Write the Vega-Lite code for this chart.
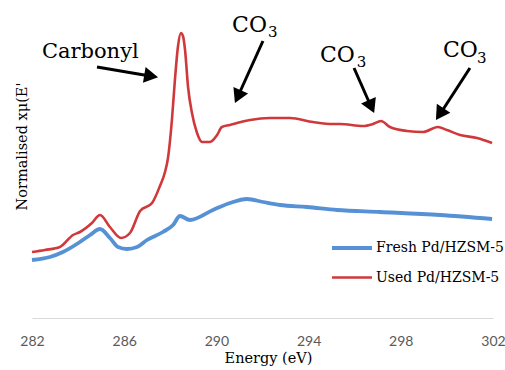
{
  "$schema": "https://vega.github.io/schema/vega-lite/v6.json",
  "width": 461,
  "height": 313,
  "autosize": {"type": "none"},
  "padding": {"left": 32, "top": 5, "right": 12, "bottom": 52},
  "background": "white",
  "config": {"view": {"stroke": null}, "axis": {"titleFontWeight": "normal"}},
  "datasets": {
    "spectra": [
      {"E": 282.00, "mu": 0.58, "series": "Fresh Pd/HZSM-5"},
      {"E": 282.78, "mu": 0.61, "series": "Fresh Pd/HZSM-5"},
      {"E": 283.34, "mu": 0.66, "series": "Fresh Pd/HZSM-5"},
      {"E": 284.08, "mu": 0.76, "series": "Fresh Pd/HZSM-5"},
      {"E": 284.52, "mu": 0.83, "series": "Fresh Pd/HZSM-5"},
      {"E": 284.95, "mu": 0.89, "series": "Fresh Pd/HZSM-5"},
      {"E": 285.38, "mu": 0.80, "series": "Fresh Pd/HZSM-5"},
      {"E": 285.73, "mu": 0.71, "series": "Fresh Pd/HZSM-5"},
      {"E": 286.12, "mu": 0.69, "series": "Fresh Pd/HZSM-5"},
      {"E": 286.56, "mu": 0.71, "series": "Fresh Pd/HZSM-5"},
      {"E": 286.99, "mu": 0.78, "series": "Fresh Pd/HZSM-5"},
      {"E": 287.68, "mu": 0.86, "series": "Fresh Pd/HZSM-5"},
      {"E": 288.12, "mu": 0.93, "series": "Fresh Pd/HZSM-5"},
      {"E": 288.42, "mu": 1.02, "series": "Fresh Pd/HZSM-5"},
      {"E": 288.85, "mu": 0.98, "series": "Fresh Pd/HZSM-5"},
      {"E": 289.85, "mu": 1.08, "series": "Fresh Pd/HZSM-5"},
      {"E": 290.59, "mu": 1.15, "series": "Fresh Pd/HZSM-5"},
      {"E": 291.33, "mu": 1.19, "series": "Fresh Pd/HZSM-5"},
      {"E": 292.02, "mu": 1.16, "series": "Fresh Pd/HZSM-5"},
      {"E": 292.76, "mu": 1.13, "series": "Fresh Pd/HZSM-5"},
      {"E": 293.93, "mu": 1.11, "series": "Fresh Pd/HZSM-5"},
      {"E": 295.23, "mu": 1.08, "series": "Fresh Pd/HZSM-5"},
      {"E": 297.10, "mu": 1.06, "series": "Fresh Pd/HZSM-5"},
      {"E": 299.70, "mu": 1.03, "series": "Fresh Pd/HZSM-5"},
      {"E": 301.96, "mu": 0.99, "series": "Fresh Pd/HZSM-5"},
      {"E": 282.00, "mu": 0.66, "series": "Used Pd/HZSM-5"},
      {"E": 282.56, "mu": 0.68, "series": "Used Pd/HZSM-5"},
      {"E": 283.21, "mu": 0.71, "series": "Used Pd/HZSM-5"},
      {"E": 283.78, "mu": 0.83, "series": "Used Pd/HZSM-5"},
      {"E": 284.08, "mu": 0.86, "series": "Used Pd/HZSM-5"},
      {"E": 284.60, "mu": 0.95, "series": "Used Pd/HZSM-5"},
      {"E": 284.95, "mu": 1.03, "series": "Used Pd/HZSM-5"},
      {"E": 285.38, "mu": 0.91, "series": "Used Pd/HZSM-5"},
      {"E": 285.86, "mu": 0.80, "series": "Used Pd/HZSM-5"},
      {"E": 286.25, "mu": 0.85, "series": "Used Pd/HZSM-5"},
      {"E": 286.69, "mu": 1.07, "series": "Used Pd/HZSM-5"},
      {"E": 287.21, "mu": 1.15, "series": "Used Pd/HZSM-5"},
      {"E": 287.55, "mu": 1.32, "series": "Used Pd/HZSM-5"},
      {"E": 287.77, "mu": 1.46, "series": "Used Pd/HZSM-5"},
      {"E": 287.90, "mu": 1.60, "series": "Used Pd/HZSM-5"},
      {"E": 288.07, "mu": 1.98, "series": "Used Pd/HZSM-5"},
      {"E": 288.20, "mu": 2.38, "series": "Used Pd/HZSM-5"},
      {"E": 288.33, "mu": 2.71, "series": "Used Pd/HZSM-5"},
      {"E": 288.46, "mu": 2.85, "series": "Used Pd/HZSM-5"},
      {"E": 288.55, "mu": 2.82, "series": "Used Pd/HZSM-5"},
      {"E": 288.64, "mu": 2.68, "series": "Used Pd/HZSM-5"},
      {"E": 288.77, "mu": 2.31, "series": "Used Pd/HZSM-5"},
      {"E": 288.94, "mu": 2.05, "series": "Used Pd/HZSM-5"},
      {"E": 289.16, "mu": 1.85, "series": "Used Pd/HZSM-5"},
      {"E": 289.38, "mu": 1.76, "series": "Used Pd/HZSM-5"},
      {"E": 289.72, "mu": 1.76, "series": "Used Pd/HZSM-5"},
      {"E": 290.03, "mu": 1.83, "series": "Used Pd/HZSM-5"},
      {"E": 290.24, "mu": 1.91, "series": "Used Pd/HZSM-5"},
      {"E": 290.59, "mu": 1.93, "series": "Used Pd/HZSM-5"},
      {"E": 290.89, "mu": 1.95, "series": "Used Pd/HZSM-5"},
      {"E": 291.46, "mu": 1.98, "series": "Used Pd/HZSM-5"},
      {"E": 292.33, "mu": 2.00, "series": "Used Pd/HZSM-5"},
      {"E": 293.19, "mu": 2.00, "series": "Used Pd/HZSM-5"},
      {"E": 294.19, "mu": 1.96, "series": "Used Pd/HZSM-5"},
      {"E": 295.06, "mu": 1.94, "series": "Used Pd/HZSM-5"},
      {"E": 295.36, "mu": 1.94, "series": "Used Pd/HZSM-5"},
      {"E": 296.36, "mu": 1.92, "series": "Used Pd/HZSM-5"},
      {"E": 296.79, "mu": 1.94, "series": "Used Pd/HZSM-5"},
      {"E": 297.14, "mu": 1.97, "series": "Used Pd/HZSM-5"},
      {"E": 297.53, "mu": 1.91, "series": "Used Pd/HZSM-5"},
      {"E": 298.27, "mu": 1.87, "series": "Used Pd/HZSM-5"},
      {"E": 298.96, "mu": 1.86, "series": "Used Pd/HZSM-5"},
      {"E": 299.61, "mu": 1.91, "series": "Used Pd/HZSM-5"},
      {"E": 300.00, "mu": 1.88, "series": "Used Pd/HZSM-5"},
      {"E": 300.57, "mu": 1.83, "series": "Used Pd/HZSM-5"},
      {"E": 301.31, "mu": 1.80, "series": "Used Pd/HZSM-5"},
      {"E": 301.96, "mu": 1.75, "series": "Used Pd/HZSM-5"}
    ],
    "arrows": [
      {"x1": 284.82, "y1": 2.51, "x2": 287.12, "y2": 2.42, "hx": 287.17, "hy": 2.42, "angle": 99.3},
      {"x1": 292.02, "y1": 2.77, "x2": 290.98, "y2": 2.24, "hx": 290.93, "hy": 2.214, "angle": 204.6},
      {"x1": 295.97, "y1": 2.50, "x2": 296.66, "y2": 2.14, "hx": 296.72, "hy": 2.114, "angle": 156.0},
      {"x1": 301.00, "y1": 2.50, "x2": 299.79, "y2": 2.07, "hx": 299.69, "hy": 2.039, "angle": 213.2}
    ],
    "carbonyl": [
      {"x": 282.43, "y": 2.60, "text": "Carbonyl"}
    ],
    "labels": [
      {"x": 290.68, "y": 2.86, "text": "CO"},
      {"x": 294.49, "y": 2.56, "text": "CO"},
      {"x": 299.83, "y": 2.61, "text": "CO"}
    ],
    "subs": [
      {"x": 292.24, "y": 2.81, "text": "3"},
      {"x": 296.09, "y": 2.51, "text": "3"},
      {"x": 301.31, "y": 2.55, "text": "3"}
    ]
  },
  "layer": [
    {
      "data": {"name": "spectra"},
      "mark": {"type": "line", "interpolate": "monotone"},
      "encoding": {
        "x": {
          "field": "E", "type": "quantitative",
          "scale": {"domain": [282, 302], "nice": false, "zero": false},
          "axis": {
            "values": [282, 286, 290, 294, 298, 302],
            "title": "Energy (eV)",
            "grid": false, "ticks": false,
            "domainColor": "#d9d9d9", "domainWidth": 1,
            "labelFont": "Lato", "labelFontSize": 14, "labelColor": "#595959",
            "labelPadding": 16, "labelFlush": false,
            "titleFont": "DejaVu Serif", "titleFontSize": 14.5, "titleFontWeight": "normal",
            "titleColor": "#000000", "titlePadding": 3, "titleX": 236
          }
        },
        "y": {
          "field": "mu", "type": "quantitative",
          "scale": {"domain": [0, 3.13], "nice": false, "zero": false},
          "axis": {
            "title": "Normalised xμ(E'",
            "labels": false, "ticks": false, "domain": false, "grid": false,
            "titleFont": "DejaVu Serif", "titleFontSize": 14.5, "titleFontWeight": "normal",
            "titleColor": "#000000", "titleX": -10, "titleY": 141,
            "titleAngle": 270, "titleAlign": "center", "titleBaseline": "middle"
          }
        },
        "color": {
          "field": "series", "type": "nominal",
          "scale": {"domain": ["Fresh Pd/HZSM-5", "Used Pd/HZSM-5"], "range": ["#5691d6", "#d0393b"]},
          "legend": {
            "title": null, "orient": "none", "legendX": 298, "legendY": 221,
            "symbolType": "stroke", "symbolSize": 1600, "symbolStrokeWidth": 3.5,
            "labelFont": "DejaVu Serif", "labelFontSize": 14, "labelColor": "#000000",
            "labelOffset": 2, "rowPadding": -4, "padding": 0
          }
        },
        "strokeWidth": {
          "field": "series", "type": "nominal",
          "scale": {"domain": ["Fresh Pd/HZSM-5", "Used Pd/HZSM-5"], "range": [3.8, 2.6]},
          "legend": null
        }
      }
    },
    {
      "data": {"name": "arrows"},
      "mark": {"type": "rule", "color": "#000000", "strokeWidth": 3},
      "encoding": {
        "x": {"field": "x1", "type": "quantitative"},
        "y": {"field": "y1", "type": "quantitative"},
        "x2": {"field": "x2"},
        "y2": {"field": "y2"}
      }
    },
    {
      "data": {"name": "arrows"},
      "mark": {"type": "point", "shape": "triangle-up", "filled": true, "color": "#000000", "opacity": 1, "size": 260, "strokeWidth": 0},
      "encoding": {
        "x": {"field": "hx", "type": "quantitative"},
        "y": {"field": "hy", "type": "quantitative"},
        "angle": {"field": "angle", "type": "quantitative", "scale": null}
      }
    },
    {
      "data": {"name": "carbonyl"},
      "mark": {"type": "text", "font": "DejaVu Serif", "fontSize": 21, "align": "left", "baseline": "alphabetic", "color": "#000000"},
      "encoding": {
        "x": {"field": "x", "type": "quantitative"},
        "y": {"field": "y", "type": "quantitative"},
        "text": {"field": "text"}
      }
    },
    {
      "data": {"name": "labels"},
      "mark": {"type": "text", "font": "DejaVu Serif", "fontSize": 22, "align": "left", "baseline": "alphabetic", "color": "#000000"},
      "encoding": {
        "x": {"field": "x", "type": "quantitative"},
        "y": {"field": "y", "type": "quantitative"},
        "text": {"field": "text"}
      }
    },
    {
      "data": {"name": "subs"},
      "mark": {"type": "text", "font": "DejaVu Serif", "fontSize": 15, "align": "left", "baseline": "alphabetic", "color": "#000000"},
      "encoding": {
        "x": {"field": "x", "type": "quantitative"},
        "y": {"field": "y", "type": "quantitative"},
        "text": {"field": "text"}
      }
    }
  ]
}
